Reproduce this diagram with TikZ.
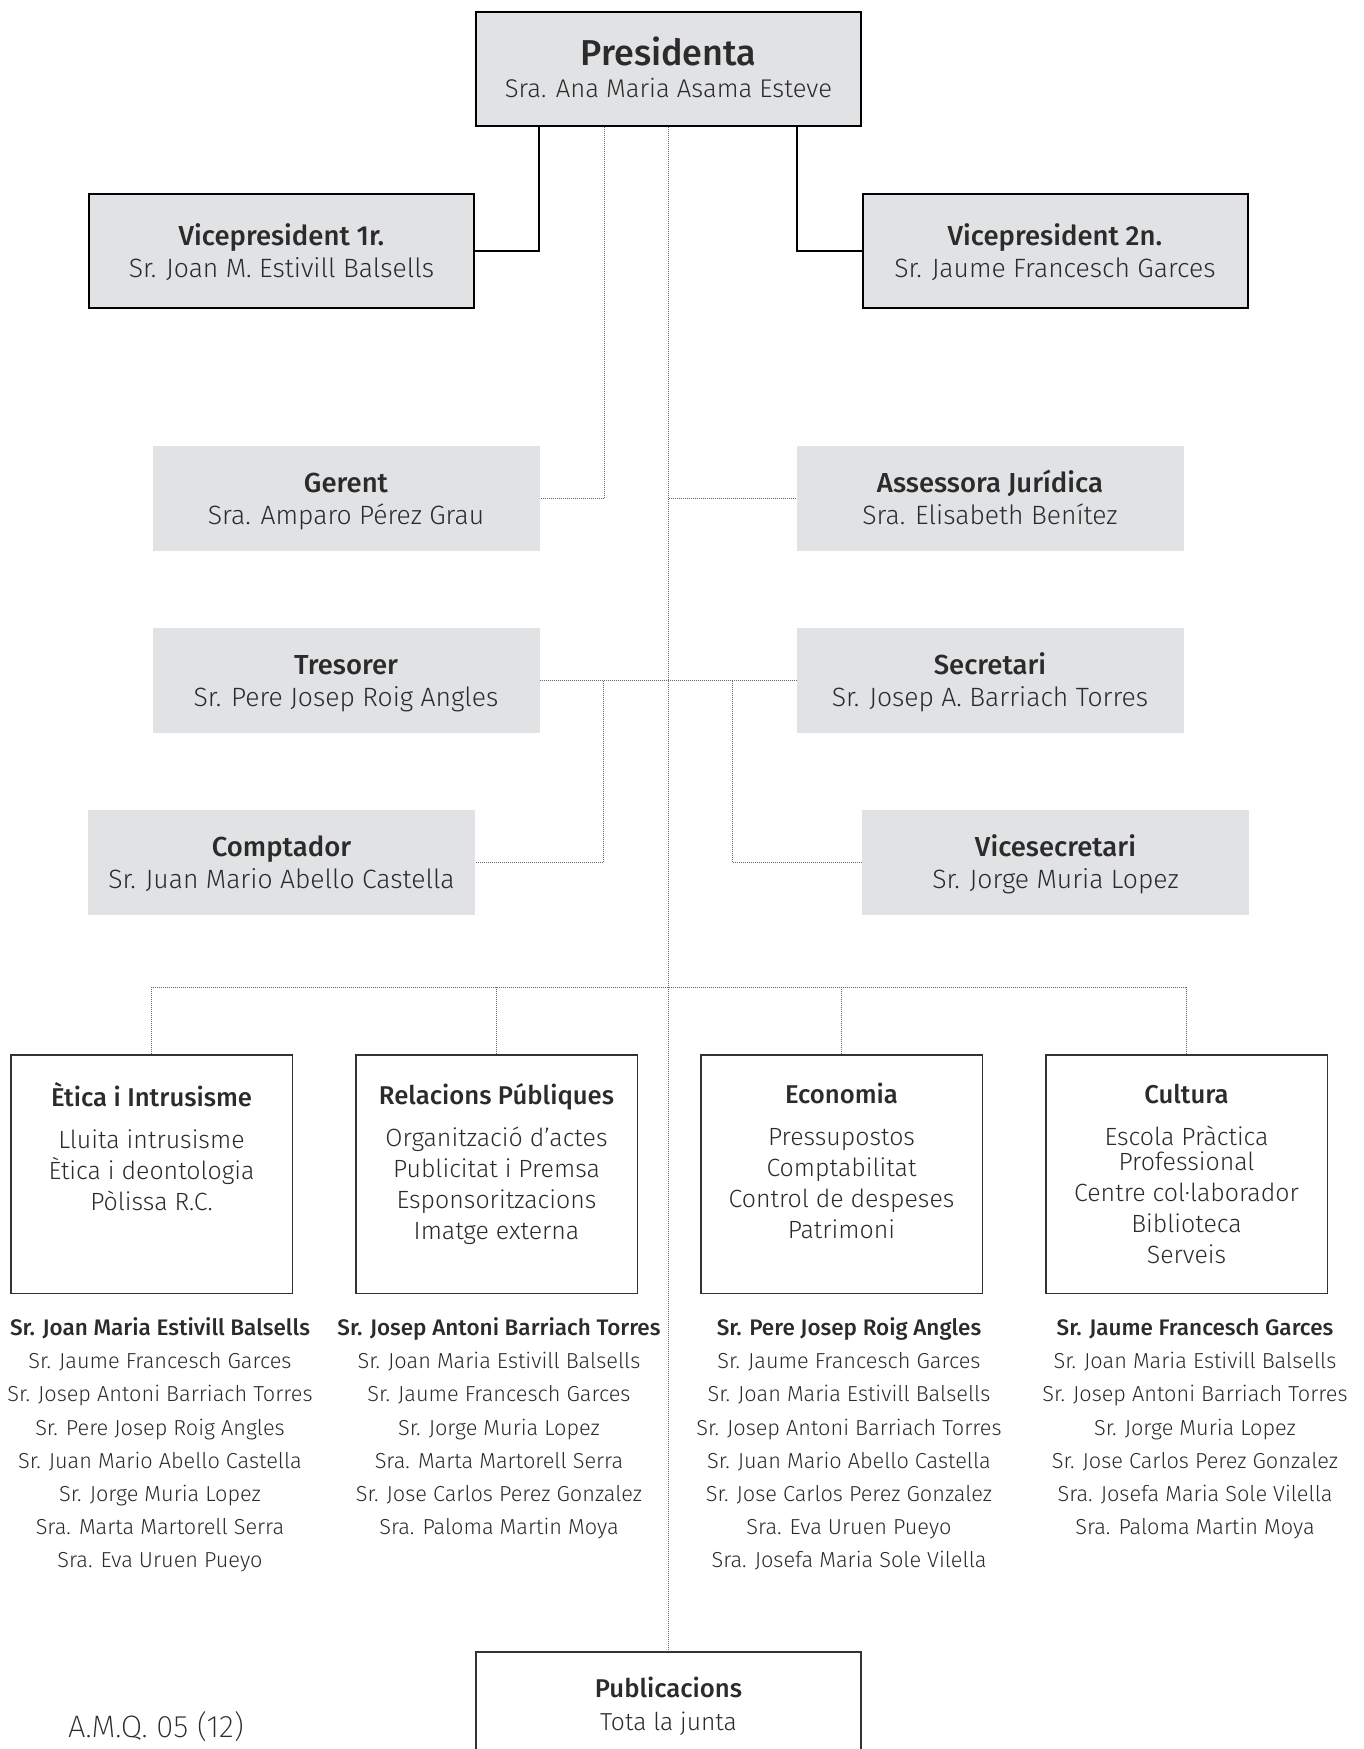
\documentclass[tikz,border=0pt]{standalone}
\usepackage{fontspec}
\setmainfont{Fira Sans}[UprightFont={* Light},BoldFont={* Medium}]
\newfontfamily\thinfont{Fira Sans ExtraLight}
\usetikzlibrary{positioning}
\definecolor{boxgray}{HTML}{E1E2E4}
\definecolor{inkgray}{HTML}{2B2B2B}
% titol i nom dins d'una caixa
\newcommand{\boxtext}[2]{\rule{0pt}{28pt}{\fontsize{27.5}{32}\selectfont\bfseries #1}\\ #2\rule[-8pt]{0pt}{8pt}}
\newcommand{\ctitle}[1]{\strut{\fontsize{25.7}{31}\selectfont\bfseries #1}}
\newcommand{\lead}[1]{\strut{\fontsize{22.5}{33.2}\selectfont\bfseries #1}}

\begin{document}
\begin{tikzpicture}[x=1pt,y=-1pt,node distance=20pt,font=\fontsize{26.5}{32}\selectfont]
  \tikzstyle{topbox}=[draw=black,line width=2pt,fill=boxgray,minimum width=385pt,minimum height=114pt,inner sep=0pt,align=center,text=inkgray]
  \tikzstyle{officebox}=[fill=boxgray,minimum width=387pt,minimum height=105pt,inner sep=0pt,align=center,text=inkgray]
  \tikzstyle{combox}=[draw=black!80,line width=1.5pt,minimum width=281.5pt,minimum height=238.5pt,inner sep=0pt]
  \tikzstyle{comtext}=[align=center,inner sep=0pt,font=\fontsize{24.9}{31}\selectfont,text=inkgray]
  \tikzstyle{members}=[align=center,inner sep=0pt,font=\fontsize{21.7}{33.2}\selectfont,text=inkgray]
  \tikzstyle{solidline}=[line width=2pt]
  \tikzstyle{dotline}=[draw=black!60,line width=1pt,dash pattern=on 1pt off 1pt]

  \useasboundingbox (0,0) rectangle (1364,1749);

  % junta
  \node[topbox] (pres) at (668.5,69) {\rule{0pt}{32pt}{\fontsize{36}{30}\selectfont\bfseries Presidenta}\\ {\fontsize{25.6}{30}\selectfont Sra. Ana Maria Asama Esteve}\rule[-8pt]{0pt}{8pt}};
  \node[topbox] (vice1) at (281.5,251) {\boxtext{Vicepresident 1r.}{Sr. Joan M. Estivill Balsells}};
  \node[topbox] (vice2) at (1055,251) {\boxtext{Vicepresident 2n.}{Sr. Jaume Francesch Garces}};

  \node[officebox] (gerent) at (346,498.5) {\boxtext{Gerent}{Sra. Amparo Pérez Grau}};
  \node[officebox] (assess) at (990,498.5) {\boxtext{Assessora Jurídica}{Sra. Elisabeth Benítez}};
  \node[officebox] (treso) at (346,680.5) {\boxtext{Tresorer}{Sr. Pere Josep Roig Angles}};
  \node[officebox] (secre) at (990,680.5) {\boxtext{Secretari}{Sr. Josep A. Barriach Torres}};
  \node[officebox] (compt) at (281.5,862) {\boxtext{Comptador}{Sr. Juan Mario Abello Castella}};
  \node[officebox] (vsec) at (1055.5,862) {\boxtext{Vicesecretari}{Sr. Jorge Muria Lopez}};

  % comissions
  \node[combox] (etica) at (151.5,1174) {};
  \node[combox, right=62pt of etica] (relac) {};
  \node[combox, right=62pt of relac] (econ) {};
  \node[combox, right=62pt of econ] (cult) {};

  \node[comtext, below=28pt of etica.north] (eticat) {\ctitle{Ètica i Intrusisme}\\[11pt] Lluita intrusisme\\ Ètica i deontologia\\ Pòlissa R.C.};
  \node[comtext, below=29pt of relac.north] (relact) {\ctitle{Relacions Públiques}\\[11pt] Organització d'actes\\ Publicitat i Premsa\\ Esponsoritzacions\\ Imatge externa};
  \node[comtext, below=28pt of econ.north] (econt) {\ctitle{Economia}\\[11pt] Pressupostos\\ Comptabilitat\\ Control de despeses\\ Patrimoni};
  \node[comtext, below=28pt of cult.north] (cultt) {\ctitle{Cultura}\\[11pt] Escola Pràctica\\[-6pt] Professional\\ Centre col·laborador\\ Biblioteca\\ Serveis};

  \node[members, below=18pt of etica.south, xshift=8.5pt] (eticam) {\lead{Sr. Joan Maria Estivill Balsells}\\ Sr. Jaume Francesch Garces\\ Sr. Josep Antoni Barriach Torres\\ Sr. Pere Josep Roig Angles\\ Sr. Juan Mario Abello Castella\\ Sr. Jorge Muria Lopez\\ Sra. Marta Martorell Serra\\ Sra. Eva Uruen Pueyo};
  \node[members, below=18pt of relac.south, xshift=2.5pt] (relacm) {\lead{Sr. Josep Antoni Barriach Torres}\\ Sr. Joan Maria Estivill Balsells\\ Sr. Jaume Francesch Garces\\ Sr. Jorge Muria Lopez\\ Sra. Marta Martorell Serra\\ Sr. Jose Carlos Perez Gonzalez\\ Sra. Paloma Martin Moya};
  \node[members, below=18pt of econ.south, xshift=7.5pt] (econm) {\lead{Sr. Pere Josep Roig Angles}\\ Sr. Jaume Francesch Garces\\ Sr. Joan Maria Estivill Balsells\\ Sr. Josep Antoni Barriach Torres\\ Sr. Juan Mario Abello Castella\\ Sr. Jose Carlos Perez Gonzalez\\ Sra. Eva Uruen Pueyo\\ Sra. Josefa Maria Sole Vilella};
  \node[members, below=18pt of cult.south, xshift=8.5pt] (cultm) {\lead{Sr. Jaume Francesch Garces}\\ Sr. Joan Maria Estivill Balsells\\ Sr. Josep Antoni Barriach Torres\\ Sr. Jorge Muria Lopez\\ Sr. Jose Carlos Perez Gonzalez\\ Sra. Josefa Maria Sole Vilella\\ Sra. Paloma Martin Moya};

  \node[draw=black!80,line width=2pt,minimum width=385pt,minimum height=148pt,inner sep=0pt] (pub) at (668.5,1726) {};
  \node[comtext, font=\fontsize{24.6}{33}\selectfont, below=23pt of pub.north] (pubt) {\strut{\fontsize{25.7}{33}\selectfont\bfseries Publicacions}\\ Tota la junta};
  \node[font=\thinfont\fontsize{31}{31}\selectfont, text=inkgray] (ref) at (156,1727) {A.M.Q. 05 (12)};

  % linies
  \draw[solidline] ([xshift=-129.5pt]pres.south) |- (vice1);
  \draw[solidline] ([xshift=128.5pt]pres.south) |- (vice2);
  \draw[dotline] (pres) -- (pub);
  \draw[dotline] ([xshift=-64.5pt]pres.south) |- (gerent);
  \draw[dotline] (assess) -- (assess -| pres);
  \draw[dotline] (treso) -- (secre);
  \draw[dotline] ([xshift=64pt]treso.east) |- (compt);
  \draw[dotline] ([xshift=-64pt]secre.west) |- (vsec);
  \draw[dotline] (etica.north) -- ++(0,67pt) -| (cult.north);
  \draw[dotline] (relac.north) -- ++(0,67pt);
  \draw[dotline] (econ.north) -- ++(0,67pt);
\end{tikzpicture}
\end{document}
